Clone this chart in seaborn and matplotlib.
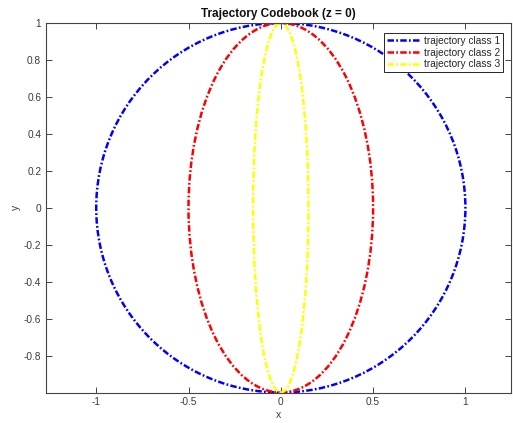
import matplotlib
matplotlib.use("Agg")
import matplotlib.pyplot as plt
from matplotlib.patches import Ellipse
from matplotlib.lines import Line2D
import seaborn as sns

# ---- data ----
classes = ["trajectory class 1", "trajectory class 2", "trajectory class 3"]
x_semi_axis = [1.0, 0.5, 0.15]
y_semi_axis = [1.0, 1.0, 1.0]
center_x = [0.0, 0.0, 0.0]
center_y = [0.0, 0.0, 0.0]
colors = ["#0000ff", "#ff0000", "#ffff00"]

x_ticks = [-1, -0.5, 0, 0.5, 1]
x_tick_labels = ["-1", "-0.5", "0", "0.5", "1"]
y_ticks = [-0.8, -0.6, -0.4, -0.2, 0, 0.2, 0.4, 0.6, 0.8, 1]
y_tick_labels = ["-0.8", "-0.6", "-0.4", "-0.2", "0", "0.2", "0.4", "0.6", "0.8", "1"]

title = "Trajectory Codebook (z = 0)"
x_label = "x"
y_label = "y"

# ---- style ----
sns.set_style("white")
plt.rcParams["font.family"] = ["Liberation Sans", "DejaVu Sans"]

W, H = 513, 423
fig = plt.figure(figsize=(W / 100, H / 100), dpi=100)
left, right, top, bottom = 46, 511, 23, 392.5
ax = fig.add_axes([left / W, (H - bottom) / H, (right - left) / W, (bottom - top) / H])

lw = 1.8
dash = (0, (2.6, 0.9, 0.7, 0.9))
handles = []
for name, a, b, cx, cy, col in zip(classes, x_semi_axis, y_semi_axis, center_x, center_y, colors):
    e = Ellipse((cx, cy), width=2 * a, height=2 * b, fill=False,
                edgecolor=col, linewidth=lw, linestyle=dash)
    ax.add_patch(e)
    handles.append(Line2D([], [], color=col, linewidth=lw, linestyle=dash, label=name))

ax.set_xlim(-1.272, 1.247)
ax.set_ylim(-1.0, 1.0)
ax.set_xticks(x_ticks)
ax.set_xticklabels(x_tick_labels)
ax.set_yticks(y_ticks)
ax.set_yticklabels(y_tick_labels)

axis_col = "#444444"
text_col = "#3a3a3a"
for s in ax.spines.values():
    s.set_visible(True)
    s.set_color(axis_col)
    s.set_linewidth(0.8)
ax.tick_params(direction="in", length=4, width=0.7, top=True, right=True,
               bottom=True, left=True, color=axis_col, labelcolor=text_col,
               labelsize=7.3, pad=3.5)

ax.set_title(title, fontsize=8.5, fontweight="bold", color="#111111", pad=4)
ax.set_xlabel(x_label, fontsize=7.5, color=text_col, labelpad=2)
ax.set_ylabel(y_label, fontsize=7.5, color=text_col, labelpad=2)

leg = ax.legend(handles=handles, loc="upper right",
                bbox_to_anchor=(1 - 8 / (right - left), 1 - 10 / (bottom - top)),
                borderaxespad=0, fontsize=7.3, handlelength=3.3, handletextpad=0.3,
                borderpad=0.3, labelspacing=0.15, fancybox=False, framealpha=1)
leg.get_frame().set_edgecolor("#262626")
leg.get_frame().set_linewidth(0.7)
for t in leg.get_texts():
    t.set_color("#262626")

fig.savefig("out.png", dpi=100)
